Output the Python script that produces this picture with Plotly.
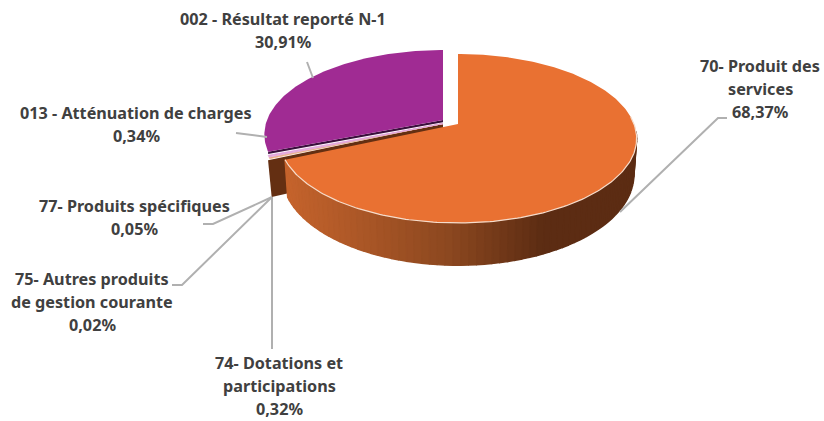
import math
import plotly.graph_objects as go

# ---- data ----
categories = ["70- Produit des services", "74- Dotations et participations",
              "75- Autres produits de gestion courante", "77- Produits spécifiques",
              "013 - Atténuation de charges", "002 - Résultat reporté N-1"]
values = [68.37, 0.32, 0.02, 0.05, 0.34, 30.91]
colors = ["#E97132", "#F2B48C", "#D9A27E", "#E6B8D8", "#E3A3DC", "#A02B93"]

# ---- label layout: wrapped lines, centre x, first-line y ----
label_lines = [["70- Produit des", "services"], ["74- Dotations et", "participations"],
               ["75- Autres produits", "de gestion courante"], ["77- Produits spécifiques"],
               ["013 - Atténuation de charges"], ["002 - Résultat reporté N-1"]]
label_pos = [(760, 66), (279, 363), (92, 279), (134, 206), (136, 113), (283, 19)]
LINE_H = 23.2
leader_paths = [[(727, 118), (718, 118), (620, 212)], [(272, 349), (272, 197)],
                [(172, 285), (182, 285), (272, 197)], [(203, 224), (213, 224), (272, 197)],
                [(236, 133), (267, 137)], [(307, 62), (313, 78)]]

# ---- projection of the tilted disc ----
A, B, K = 176.0, 82.0, 0.1716
THICK = 35.0
C_MAIN = (458.0, 124.0)
C_REST = (443.0, 120.0)

def project(theta, c, r=1.0):
    X, Y = r * math.sin(theta), r * math.cos(theta)
    s = 1 / (1 + K * Y)
    return c[0] + A * X * s, c[1] - B * Y * s, s

def lower(theta, c):
    x, y, s = project(theta, c)
    return c[0] + (x - c[0]) * 0.985, y + THICK * s

def arc(t0, t1, c, n=None):
    n = n or max(2, int(abs(t1 - t0) * 60))
    return [project(t0 + (t1 - t0) * i / n, c)[:2] for i in range(n + 1)]

def poly(pts, fill, line=None, width=0.0):
    return go.Scatter(x=[p[0] for p in pts], y=[p[1] for p in pts], mode="lines", fill="toself",
                      fillcolor=fill, line=dict(color=line or fill, width=width),
                      hoverinfo="skip", showlegend=False)

def mix(a, b, t):
    return "rgb(%d,%d,%d)" % tuple(a[i] + (b[i] - a[i]) * t for i in range(3))

total = sum(values)
angles = [0.0]
for v in values:
    angles.append(angles[-1] + v / total * 2 * math.pi)

fig = go.Figure()
t_main_end = angles[1]
t_purple_start = angles[5]
DROP_DARK = 2.2
DROP_SMALL = 3.6
C_SMALL = (C_REST[0], C_REST[1] + DROP_SMALL)

# visible cut wall of the small slices
rim = project(t_main_end, C_SMALL)[:2]
rim_low = lower(t_main_end, C_SMALL)
ap_low = (C_SMALL[0], C_SMALL[1] + THICK)
fig.add_trace(poly([(rim[0] - 2, rim[1] + 1), (rim_low[0] - 1, rim_low[1]), ap_low, C_SMALL], "#642F12"))

# cut wall and top of the purple slice
pr = project(t_purple_start, C_REST)
fig.add_trace(poly([C_REST, pr[:2], (pr[0], pr[1] + DROP_DARK), (C_REST[0], C_REST[1] + DROP_DARK)], "#3A0F3C"))
fig.add_trace(poly([C_REST] + arc(t_purple_start, angles[6], C_REST) + [C_REST], colors[5]))

# tops of the small slices
for i in (1, 2, 3, 4):
    fig.add_trace(poly([C_SMALL] + arc(angles[i], angles[i + 1], C_SMALL, 3) + [C_SMALL], colors[i],
                       width=0.7))

# orange outer wall, shaded from left to right
stops = [(285, (198, 100, 45)), (450, (140, 72, 32)), (545, (92, 44, 19)), (640, (92, 44, 19))]
def shade(x):
    for (x0, c0), (x1, c1) in zip(stops, stops[1:]):
        if x <= x1:
            return mix(c0, c1, max(0, (x - x0) / (x1 - x0)))
    return mix(stops[-1][1], stops[-1][1], 0)

N = 70
t0 = math.radians(95)
wall_ts = [t0 + (t_main_end - t0) * i / N for i in range(N + 1)]
fig.add_trace(poly([project(t, C_MAIN)[:2] for t in wall_ts] + [lower(t, C_MAIN) for t in reversed(wall_ts)],
                   "rgb(130,66,30)"))
for a, b in reversed(list(zip(wall_ts, wall_ts[1:]))):
    pa, pb = project(a, C_MAIN), project(b, C_MAIN)
    pts = [pa[:2], pb[:2], lower(b, C_MAIN), lower(a, C_MAIN)]
    fig.add_trace(poly(pts, shade((pa[0] + pb[0]) / 2), width=1.4))

# orange top
fig.add_trace(poly([C_MAIN] + arc(0, t_main_end, C_MAIN) + [C_MAIN], colors[0]))
# pale highlight along the front rim
front = arc(math.radians(85), t_main_end, C_MAIN)
fig.add_trace(go.Scatter(x=[p[0] for p in front], y=[p[1] for p in front], mode="lines",
                         line=dict(color="#F6DCCB", width=1.2), hoverinfo="skip", showlegend=False))

# leader lines
for path in leader_paths:
    fig.add_trace(go.Scatter(x=[p[0] for p in path], y=[p[1] for p in path], mode="lines",
                             line=dict(color="#B0B0B0", width=2), hoverinfo="skip", showlegend=False))

# labels
ann = []
for lines, (lx, ly), v in zip(label_lines, label_pos, values):
    for j, text in enumerate(lines + [f"{v:.2f}".replace(".", ",") + "%"]):
        ann.append(dict(x=lx, y=ly + j * LINE_H, text=f"<b>{text}</b>", showarrow=False,
                        xanchor="center", yanchor="middle", xref="x", yref="y",
                        font=dict(family="Noto Sans", size=16.2, color="#404040")))

fig.update_layout(width=824, height=421, margin=dict(l=0, r=0, t=0, b=0),
                  paper_bgcolor="white", plot_bgcolor="white", showlegend=False, annotations=ann,
                  xaxis=dict(range=[0, 824], visible=False, fixedrange=True),
                  yaxis=dict(range=[421, 0], visible=False, fixedrange=True))
fig.write_html("out.html", config={"displayModeBar": False},
               post_script="document.body.style.margin='0';document.documentElement.style.overflow='hidden';")
